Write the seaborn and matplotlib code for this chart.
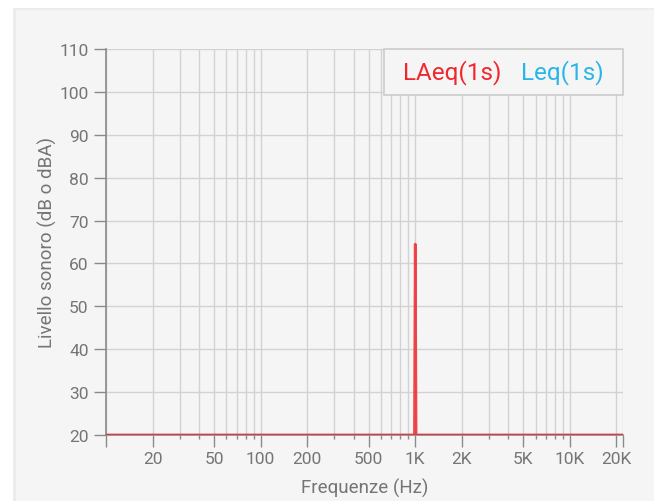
import pandas as pd
import numpy as np
import matplotlib
matplotlib.use('Agg')
import matplotlib.pyplot as plt
import matplotlib.ticker as mticker
from matplotlib.patches import Rectangle
import seaborn as sns

# dati
frequenze = [10, 988, 1000, 1012, 22050]
laeq = [20, 20, 64.5, 20, 20]
leq = [20, 20, 20, 20, 20]

tick_freq = [20, 50, 100, 200, 500, 1000, 2000, 5000, 10000, 20000]
tick_lab = ['20', '50', '100', '200', '500', '1K', '2K', '5K', '10K', '20K']
y_ticks = [20, 30, 40, 50, 60, 70, 80, 90, 100, 110]

df = pd.DataFrame({'freq': frequenze * 2,
                   'livello': leq + laeq,
                   'serie': ['Leq(1s)'] * len(frequenze) + ['LAeq(1s)'] * len(frequenze)})

sns.set_style('white')
plt.rcParams['font.family'] = ['Roboto', 'DejaVu Sans']

rosso = '#f0282d'
blu = '#29b6e6'
grigio = '#757575'
W, H = 654, 502

fig = plt.figure(figsize=(6.54, 5.02), dpi=100)
fig.patch.set_facecolor('white')
# scheda di sfondo
fig.patches.append(Rectangle((13 / W, 0), 1, (H - 9) / H, transform=fig.transFigure,
                             facecolor='#ececec', edgecolor='none', zorder=-2))
fig.patches.append(Rectangle((16 / W, 0), 1, (H - 11) / H, transform=fig.transFigure,
                             facecolor='#f5f5f5', edgecolor='none', zorder=-1))

ax = fig.add_axes([106 / W, 1 - 436 / H, 517 / W, 386 / H])
ax.set_facecolor('#f5f5f5')
ax.set_zorder(1)

sns.lineplot(data=df[df['serie'] == 'Leq(1s)'], x='freq', y='livello', color=blu,
             lw=2, ax=ax, legend=False, zorder=3)
sns.lineplot(data=df[df['serie'] == 'LAeq(1s)'], x='freq', y='livello', color=rosso,
             lw=2, alpha=0.85, ax=ax, legend=False, zorder=4)

ax.set_xscale('log')
ax.set_xlim(10, 22050)
ax.set_ylim(20, 110)

ax.xaxis.set_major_locator(mticker.FixedLocator([10] + tick_freq + [22050]))
ax.xaxis.set_major_formatter(mticker.FixedFormatter([''] + tick_lab + ['']))
ax.xaxis.set_minor_locator(mticker.LogLocator(base=10, subs=np.arange(2, 10), numticks=20))
ax.xaxis.set_minor_formatter(mticker.NullFormatter())
ax.set_yticks(y_ticks)

ax.grid(True, which='both', color='#d2d2d2', lw=1)
ax.tick_params(axis='both', which='major', length=8.5, width=1, color='#8a8a8a',
               labelsize=12.5, labelcolor=grigio, pad=4)
ax.tick_params(axis='x', which='minor', length=3, width=1, color='#8a8a8a', bottom=True)
ax.tick_params(axis='x', which='major', bottom=True, pad=3)
ax.tick_params(axis='y', which='major', left=True)

for s in ['top', 'right']:
    ax.spines[s].set_visible(False)
for s in ['left', 'bottom']:
    ax.spines[s].set_color('#8a8a8a')
    ax.spines[s].set_linewidth(1.2)

ax.set_xlabel('Frequenze (Hz)', fontsize=13.5, color=grigio)
ax.xaxis.set_label_coords(0.5, -(479 - 436) / 386)
ax.set_ylabel('Livello sonoro (dB o dBA)', fontsize=13.5, color=grigio)
ax.yaxis.set_label_coords(-(106 - 57) / 517, 0.5)

# legenda: riquadro con etichette colorate
ax.add_patch(Rectangle((384 / W, 1 - 96 / H), (623 - 384) / W, 46 / H, transform=fig.transFigure,
                       facecolor='#f5f5f5', edgecolor='#cccccc', lw=1.2, zorder=6, clip_on=False))
ax.text(403 / W, 1 - 73 / H, 'LAeq(1s)', color=rosso, fontsize=17.5, ha='left', va='center',
        transform=fig.transFigure, zorder=7)
ax.text(604 / W, 1 - 73 / H, 'Leq(1s)', color=blu, fontsize=17.5, ha='right', va='center',
        transform=fig.transFigure, zorder=7)

fig.savefig('out.png', dpi=100)
